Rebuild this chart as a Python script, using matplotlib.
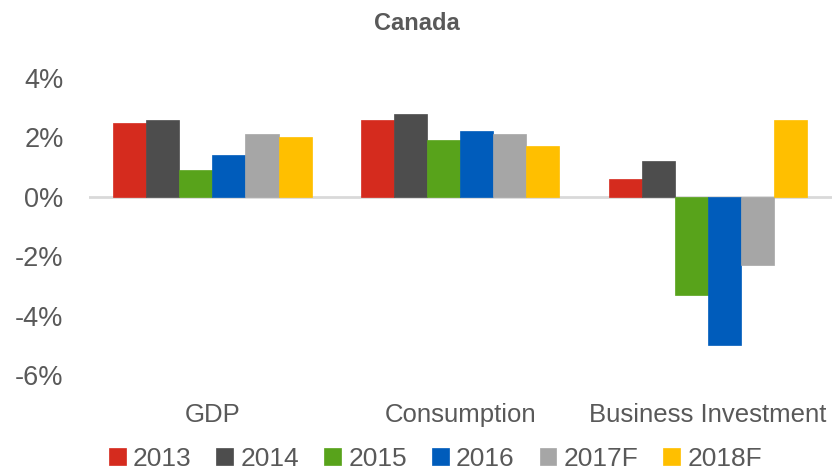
import matplotlib
matplotlib.use("Agg")
import matplotlib.pyplot as plt
import numpy as np
from matplotlib.ticker import FuncFormatter

plt.rcParams['font.family'] = ['Liberation Sans Narrow', 'Liberation Sans', 'DejaVu Sans']

categories = ["GDP", "Consumption", "Business Investment"]
years = ["2013", "2014", "2015", "2016", "2017F", "2018F"]
values = {
    "2013": [2.5, 2.6, 0.6],
    "2014": [2.6, 2.8, 1.2],
    "2015": [0.9, 1.9, -3.3],
    "2016": [1.4, 2.2, -5.0],
    "2017F": [2.1, 2.1, -2.3],
    "2018F": [2.0, 1.7, 2.6],
}
colors = ["#d52b1e", "#4d4d4d", "#58a31b", "#005cbb", "#a6a6a6", "#ffbf00"]
yticks = [4, 2, 0, -2, -4, -6]

text_color = "#595959"

fig = plt.figure(figsize=(8.34, 4.73), dpi=100)
ax = fig.add_axes([88.5 / 834, (473 - 375) / 473, (832 - 88.5) / 834, (375 - 78) / 473])

x = np.arange(len(categories))
n = len(years)
bw = 0.8 / n
handles = []
for i, (yr, col) in enumerate(zip(years, colors)):
    h = ax.bar(x - 0.4 + bw * (i + 0.5), values[yr], width=bw, color=col,
               edgecolor=col, linewidth=0.5, label=yr, zorder=2)
    handles.append(h)

ax.set_xlim(-0.5, len(categories) - 0.5)
ax.set_ylim(-6, 4)
ax.set_yticks(yticks)
ax.yaxis.set_major_formatter(FuncFormatter(lambda v, p: f"{v:.0f}%"))
ax.tick_params(axis='y', length=0, pad=18, labelsize=19.5, labelcolor=text_color)
ax.set_xticks([])
for s in ax.spines.values():
    s.set_visible(False)
ax.axhline(0, color="#d9d9d9", linewidth=2, zorder=1)

for xi, c in zip(x, categories):
    ax.text(xi, -7.35, c, ha='center', va='center', fontsize=18.5, color=text_color,
            transform=ax.transData, clip_on=False)

fig.text(0.5, 1 - 23 / 473, "Canada", ha='center', va='center', fontsize=17,
         fontweight='bold', color=text_color)

leg = fig.legend(handles=handles, labels=years, loc='center', ncol=6,
                 bbox_to_anchor=(0.522, 1 - 459 / 473), frameon=False,
                 fontsize=19, handlelength=0.64, handleheight=0.64,
                 handletextpad=0.27, columnspacing=0.95, borderaxespad=0)
for t in leg.get_texts():
    t.set_color(text_color)

fig.savefig("out.png", dpi=100)
